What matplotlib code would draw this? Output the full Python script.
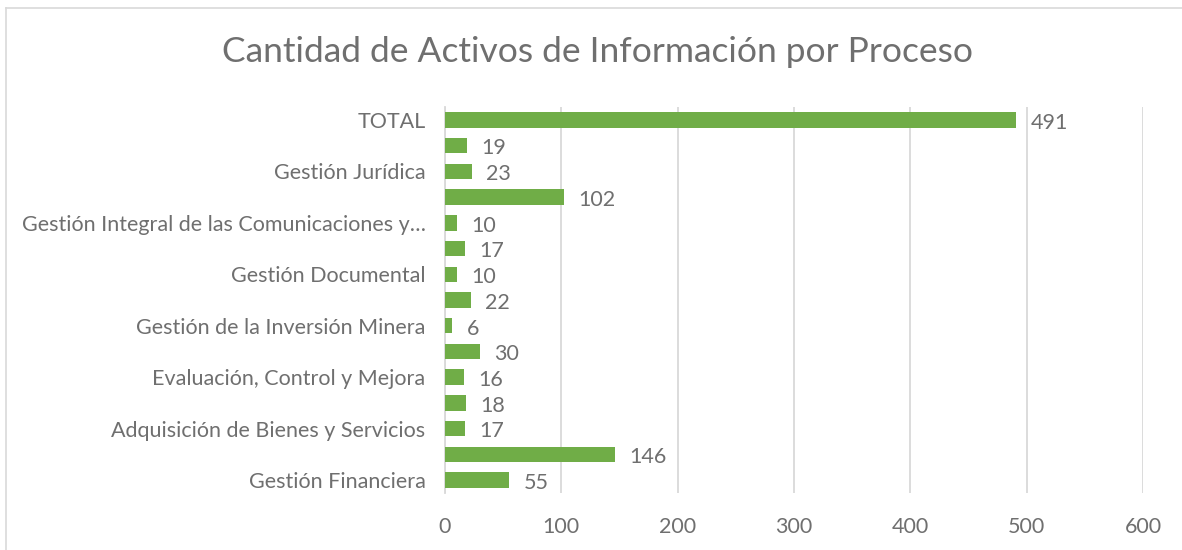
import matplotlib
matplotlib.use('Agg')

import matplotlib.pyplot as plt
import matplotlib as mpl

mpl.rcParams["font.family"] = ["Lato", "DejaVu Sans"]

# categories bottom -> top (only every other label is shown, as in the original)
categories = [
    "Gestión Financiera", "",
    "Adquisición de Bienes y Servicios", "",
    "Evaluación, Control y Mejora", "",
    "Gestión de la Inversión Minera", "",
    "Gestión Documental", "",
    "Gestión Integral de las Comunicaciones y…", "",
    "Gestión Jurídica", "",
    "TOTAL",
]
values = [55, 146, 17, 18, 16, 30, 6, 22, 10, 17, 10, 102, 23, 19, 491]
x_ticks = [0, 100, 200, 300, 400, 500, 600]

GREEN = "#70ad47"
TEXT = "#6f6f6f"
GRID = "#d9d9d9"

fig = plt.figure(figsize=(11.82, 5.5), dpi=100)
fig.patch.set_facecolor("white")
ax = fig.add_axes([445/1182, 1-493/550, (1143-445)/1182, (493-107)/550])

pos = list(range(len(values)))
ax.barh(pos, values, height=0.6, color=GREEN, zorder=3)
for p, v in zip(pos, values):
    ax.annotate(str(v), (v, p), xytext=(10.5, -2), textcoords="offset points",
                ha="left", va="center", fontsize=15.5, color=TEXT, zorder=4)

ax.set_xlim(0, 600)
ax.set_ylim(-0.5, len(values) - 0.5)
ax.set_xticks(x_ticks)
ax.set_xticklabels([str(t) for t in x_ticks])
ax.set_yticks(pos)
ax.set_yticklabels(categories)
ax.tick_params(axis="both", length=0, labelsize=15.5, labelcolor=TEXT)
ax.tick_params(axis="y", pad=14)
ax.tick_params(axis="x", pad=17)
ax.grid(axis="x", color=GRID, lw=1.3, zorder=0)
for s in ["top", "right", "bottom"]:
    ax.spines[s].set_visible(False)
ax.spines["left"].set_color(GRID)
ax.spines["left"].set_linewidth(1.3)

fig.text(597/1182, 1-52/550, "Cantidad de Activos de Información por Proceso",
         ha="center", va="center", fontsize=25.5, color=TEXT)

# chart area border (top and left edges visible)
fig.add_artist(plt.Line2D([6/1182, 1], [1-8/550, 1-8/550], color=GRID, lw=1.2))
fig.add_artist(plt.Line2D([6/1182, 6/1182], [0, 1-8/550], color=GRID, lw=1.2))

fig.savefig("out.png", dpi=100, facecolor="white")
